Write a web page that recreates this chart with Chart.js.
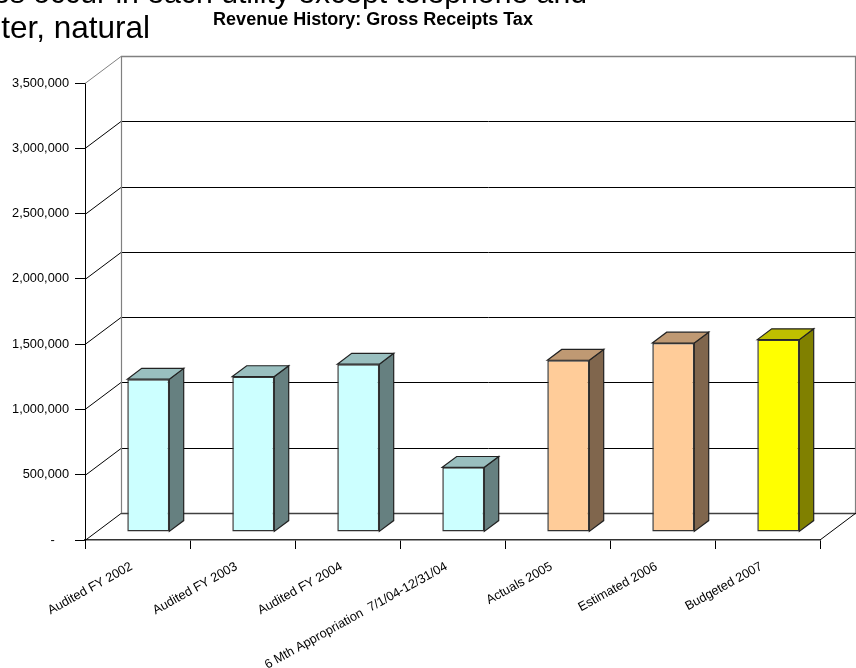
<!DOCTYPE html>
<html>
<head>
<meta charset="utf-8">
<style>
  html, body { margin: 0; padding: 0; background: #fff; overflow: hidden; }
  #stage { position: relative; width: 856px; height: 668px; overflow: hidden; }
  canvas { position: absolute; left: 0; top: 0; }
  .slide-text { position: absolute; white-space: pre; font: 31.5px/36px "Liberation Sans", Arial, sans-serif; color: #000; text-align: right; }
</style>
<script src="https://cdn.jsdelivr.net/npm/chart.js@4"></script>
</head>
<body>
<div id="stage">
  <canvas id="chart" width="856" height="668"></canvas>
  <div class="slide-text" style="right:269px; top:-25.4px; font-size:30.2px;">es occur in each utility except telephone and</div>
  <div class="slide-text" style="right:706px; top:9px;">ter, natural</div>
</div>
<script>
const categories = [
  'Audited FY 2002',
  'Audited FY 2003',
  'Audited FY 2004',
  '6 Mth Appropriation  7/1/04-12/31/04',
  'Actuals 2005',
  'Estimated 2006',
  'Budgeted 2007'
];
const revenue = [1170000, 1190000, 1285000, 495000, 1315000, 1447000, 1473000];
const yTickLabels = ['-    ', '500,000', '1,000,000', '1,500,000', '2,000,000', '2,500,000', '3,000,000', '3,500,000'];

const frontColors = ['#CCFFFF', '#CCFFFF', '#CCFFFF', '#CCFFFF', '#FFCC99', '#FFCC99', '#FFFF00'];
const sideColors  = ['#668080', '#668080', '#668080', '#668080', '#80664D', '#80664D', '#808000'];
const topColors   = ['#99BFBF', '#99BFBF', '#99BFBF', '#99BFBF', '#BF9973', '#BF9973', '#BFBF00'];

// Oblique projection: how far the back wall sits from the front plane.
const DEPTH_X = 36;
const DEPTH_Y = 27;
const BAR_FRONT = 0.3;   // share of the depth before a bar starts
const BAR_DEPTH = 0.4;   // share of the depth a bar occupies

function line(ctx, pts, color, width) {
  ctx.beginPath();
  pts.forEach((p, i) => i ? ctx.lineTo(p[0], p[1]) : ctx.moveTo(p[0], p[1]));
  ctx.strokeStyle = color;
  ctx.lineWidth = width;
  ctx.stroke();
}

function face(ctx, pts, fill) {
  ctx.beginPath();
  pts.forEach((p, i) => i ? ctx.lineTo(p[0], p[1]) : ctx.moveTo(p[0], p[1]));
  ctx.closePath();
  ctx.fillStyle = fill;
  ctx.fill();
  ctx.strokeStyle = '#222222';
  ctx.lineWidth = 1.2;
  ctx.stroke();
}

const oblique3d = {
  id: 'oblique3d',
  afterLayout(chart) {
    // The heading is centred over the left part of the slide, not the canvas.
    chart.titleBlock.right = 746;
  },
  beforeDatasetsDraw(chart) {
    const { ctx, chartArea: a, scales: { y } } = chart;
    const backLeft = a.left + DEPTH_X;
    const backRight = a.right + DEPTH_X;
    ctx.save();
    y.ticks.forEach((t, i) => {
      const py = Math.round(y.getPixelForValue(t.value)) + 0.5;
      const top = i === y.ticks.length - 1;
      const floor = i === 0;
      const col = top ? '#808080' : floor ? '#404040' : '#000000';
      line(ctx, [[a.left, py], [backLeft, py - DEPTH_Y]], top ? '#808080' : '#000000', 1);
      line(ctx, [[backLeft, py - DEPTH_Y], [backRight, py - DEPTH_Y]], col, floor || top ? 1.6 : 1);
    });
    const yTop = y.getPixelForValue(y.max) - DEPTH_Y;
    const yBot = y.getPixelForValue(0) - DEPTH_Y;
    line(ctx, [[backLeft + 0.5, yTop], [backLeft + 0.5, yBot]], '#808080', 1.2);
    line(ctx, [[backRight - 0.5, yTop], [backRight - 0.5, yBot]], '#808080', 1.2);
    line(ctx, [[a.right, a.bottom], [backRight, yBot]], '#000000', 1);
    ctx.restore();

    // Bars sit part-way back on the floor, so their front plane is shifted.
    ctx.save();
    ctx.translate(DEPTH_X * BAR_FRONT, -DEPTH_Y * BAR_FRONT);
  },
  beforeDatasetDraw(chart, args) {
    const { ctx } = chart;
    const dx = DEPTH_X * BAR_DEPTH;
    const dy = DEPTH_Y * BAR_DEPTH;
    args.meta.data.forEach((bar, i) => {
      const p = bar.getProps(['x', 'y', 'base', 'width'], true);
      const l = p.x - p.width / 2;
      const r = p.x + p.width / 2;
      face(ctx, [[r, p.y], [r + dx, p.y - dy], [r + dx, p.base - dy], [r, p.base]], sideColors[i]);
      face(ctx, [[l, p.y], [l + dx, p.y - dy], [r + dx, p.y - dy], [r, p.y]], topColors[i]);
    });
  },
  afterDatasetsDraw(chart) {
    chart.ctx.restore();
  }
};

new Chart(document.getElementById('chart'), {
  type: 'bar',
  data: {
    labels: categories,
    datasets: [{
      label: 'Gross Receipts Tax',
      data: revenue,
      backgroundColor: frontColors,
      borderColor: '#333333',
      borderWidth: 1.5,
      borderSkipped: false,
      barPercentage: 0.4,
      categoryPercentage: 1,
      clip: false
    }]
  },
  plugins: [oblique3d],
  options: {
    responsive: false,
    animation: false,
    events: [],
    layout: { padding: { left: 0, top: 0, right: 36, bottom: 0 } },
    plugins: {
      legend: { display: false },
      tooltip: { enabled: false },
      title: {
        display: true,
        text: 'Revenue History: Gross Receipts Tax',
        color: '#000',
        font: { family: '"Liberation Sans", Arial, sans-serif', size: 18, weight: 'bold' },
        lineHeight: 1.2,
        padding: { top: 9.5, bottom: 52 }
      }
    },
    scales: {
      x: {
        grid: { offset: true, drawOnChartArea: false, color: '#000', tickLength: 9 },
        border: { color: '#333', width: 1.5 },
        ticks: {
          autoSkip: false,
          minRotation: 29,
          maxRotation: 29,
          padding: 10,
          labelOffset: -6,
          color: '#000',
          font: { family: '"Liberation Sans", Arial, sans-serif', size: 12.7 }
        },
        afterFit(scale) {
          scale.height = 128;
          scale.paddingLeft = 0;
          scale.paddingRight = 0;
        }
      },
      y: {
        min: 0,
        max: 3500000,
        grid: { drawOnChartArea: false, color: '#000', tickLength: 10 },
        border: { color: '#000', width: 1 },
        ticks: {
          stepSize: 500000,
          padding: 6,
          color: '#000',
          font: { family: '"Liberation Sans", Arial, sans-serif', size: 12.8 },
          callback: (value, index) => yTickLabels[index]
        },
        afterFit(scale) {
          scale.width = 85;
          scale.paddingTop = 0;
          scale.paddingBottom = 0;
        }
      }
    }
  }
});
</script>
</body>
</html>
